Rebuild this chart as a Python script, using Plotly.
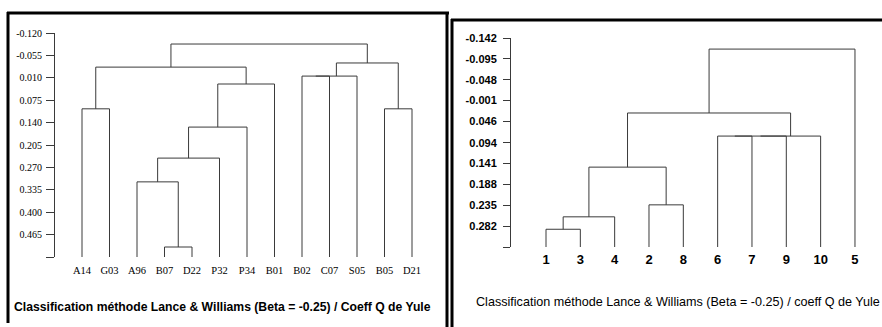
import plotly.graph_objs as go

W, H = 882, 327

## left dendrogram (13 objects)
left_leaves = ['A14', 'G03', 'A96', 'B07', 'D22', 'P32', 'P34', 'B01',
               'B02', 'C07', 'S05', 'B05', 'D21']
# merges: (child a, child b, level); children are leaf names or 'm<k>' (k = merge number, from 1)
left_merges = [('B07', 'D22', 0.501), ('A96', 'm1', 0.312), ('m2', 'P32', 0.243),
               ('m3', 'P34', 0.153), ('m4', 'B01', 0.028), ('A14', 'G03', 0.100),
               ('m6', 'm5', -0.021), ('B02', 'C07', 0.005), ('m8', 'S05', 0.005),
               ('B05', 'D21', 0.100), ('m9', 'm10', -0.033), ('m7', 'm11', -0.088)]
left_tickvals = [-0.120, -0.055, 0.010, 0.075, 0.140, 0.205, 0.270, 0.335, 0.400, 0.465, 0.530]
left_ticktext = ['-0.120', '-0.055', '0.010', '0.075', '0.140', '0.205', '0.270',
                 '0.335', '0.400', '0.465', '']

## right dendrogram (10 objects)
right_leaves = ['1', '3', '4', '2', '8', '6', '7', '9', '10', '5']
right_merges = [('1', '3', 0.289), ('m1', '4', 0.261), ('2', '8', 0.234),
                ('m2', 'm3', 0.149), ('6', '7', 0.079), ('m5', '9', 0.079),
                ('m6', '10', 0.079), ('m4', 'm7', 0.027), ('m8', '5', -0.117)]
right_tickvals = [-0.142, -0.095, -0.048, -0.001, 0.046, 0.094, 0.141, 0.188, 0.235, 0.282, 0.329]
right_ticktext = ['-0.142', '-0.095', '-0.048', '-0.001', '0.046', '0.094', '0.141',
                  '0.188', '0.235', '0.282', '']

title_left = 'Classification méthode Lance & Williams (Beta = -0.25) / Coeff Q de Yule'
title_right = 'Classification méthode Lance & Williams (Beta = -0.25) / coeff Q de Yule'


def dendro_lines(leaves, merges, base):
    pos = {name: (i, base) for i, name in enumerate(leaves)}
    xs, ys = [], []
    for k, (a, b, h) in enumerate(merges, start=1):
        xa, ha = pos[a]
        xb, hb = pos[b]
        xs += [xa, xa, xb, xb, None]
        ys += [ha, h, h, hb, None]
        pos['m%d' % k] = ((xa + xb) / 2.0, h)
    return xs, ys


lx, ly = dendro_lines(left_leaves, left_merges, left_tickvals[-1])
rx, ry = dendro_lines(right_leaves, right_merges, right_tickvals[-1])

line_col = '#3a3a3a'
data = [
    go.Scatter(x=lx, y=ly, mode='lines', line=dict(color=line_col, width=1),
               xaxis='x', yaxis='y', hoverinfo='none', showlegend=False),
    go.Scatter(x=rx, y=ry, mode='lines', line=dict(color=line_col, width=1),
               xaxis='x2', yaxis='y2', hoverinfo='none', showlegend=False),
]


def px(x):
    return x / W


def py(y):
    return 1 - y / H


##pixel placement of the two panels
L_axis, L_top, L_bot, L_first, L_step, L_right = 55, 33, 257, 82, 27.5, 440
R_axis, R_top, R_bot, R_first, R_step, R_right = 511, 38, 247, 546, 34.33, 875

serif = dict(family='Liberation Serif, serif', size=10.5, color='black')
sans = dict(family='Liberation Sans, Arial, sans-serif', size=11, color='black')

common = dict(showgrid=False, zeroline=False, automargin=False, fixedrange=True)

layout = go.Layout(
    width=W, height=H, margin=dict(l=0, r=0, t=0, b=0, pad=0),
    paper_bgcolor='white', plot_bgcolor='white', showlegend=False,
    xaxis=dict(common, domain=[px(L_axis), px(L_right)],
               range=[(L_axis - L_first) / L_step, (L_right - L_first) / L_step],
               tickvals=list(range(len(left_leaves))), ticktext=left_leaves,
               showline=False, ticks='', tickfont=serif, ticklabelstandoff=5, anchor='y'),
    yaxis=dict(common, domain=[py(L_bot), py(L_top)], range=[left_tickvals[-1], left_tickvals[0]],
               tickvals=left_tickvals, ticktext=left_ticktext,
               showline=True, linecolor=line_col, linewidth=1,
               ticks='outside', ticklen=8, tickcolor=line_col, tickwidth=1,
               tickfont=dict(serif, size=10), ticklabelstandoff=2, anchor='x'),
    yaxis3=dict(common, domain=[py(L_bot), py(L_top)], range=[left_tickvals[-1], left_tickvals[0]],
                tickvals=left_tickvals, showticklabels=False, overlaying='y', anchor='x',
                showline=False, ticks='inside', ticklen=7, tickcolor=line_col, tickwidth=1),
    xaxis2=dict(common, domain=[px(R_axis), px(R_right)],
                range=[(R_axis - R_first) / R_step, (R_right - R_first) / R_step],
                tickvals=list(range(len(right_leaves))), ticktext=right_leaves,
                showline=False, ticks='',
                tickfont=dict(sans, size=13, weight='bold'), ticklabelstandoff=3, anchor='y2'),
    yaxis2=dict(common, domain=[py(R_bot), py(R_top)], range=[right_tickvals[-1], right_tickvals[0]],
                tickvals=right_tickvals, ticktext=right_ticktext,
                showline=True, linecolor=line_col, linewidth=1,
                ticks='outside', ticklen=7, tickcolor=line_col, tickwidth=1,
                tickfont=dict(sans, weight='bold'), ticklabelstandoff=4, anchor='x2'),
    yaxis4=dict(common, domain=[py(R_bot), py(R_top)], range=[right_tickvals[-1], right_tickvals[0]],
                tickvals=right_tickvals, showticklabels=False, overlaying='y2', anchor='x2',
                showline=False, ticks='inside', ticklen=6, tickcolor=line_col, tickwidth=1),
    annotations=[
        dict(text=title_left, xref='paper', yref='paper', x=px(12), y=py(307),
             xanchor='left', yanchor='middle', showarrow=False,
             font=dict(sans, size=12.2, weight='bold')),
        dict(text=title_right, xref='paper', yref='paper', x=px(474), y=py(302),
             xanchor='left', yanchor='middle', showarrow=False,
             font=dict(sans, size=12.6)),
    ],
    ##panel frames
    shapes=[
        dict(type='line', xref='paper', yref='paper', x0=px(7), x1=px(449), y0=py(13), y1=py(13),
             line=dict(color='black', width=3)),
        dict(type='line', xref='paper', yref='paper', x0=px(8), x1=px(8), y0=py(12), y1=py(323),
             line=dict(color='black', width=3)),
        dict(type='line', xref='paper', yref='paper', x0=px(447), x1=px(447), y0=py(12), y1=py(327),
             line=dict(color='black', width=3)),
        dict(type='line', xref='paper', yref='paper', x0=px(451), x1=px(882), y0=py(20), y1=py(20),
             line=dict(color='black', width=3)),
        dict(type='line', xref='paper', yref='paper', x0=px(452), x1=px(452), y0=py(19), y1=py(327),
             line=dict(color='black', width=3)),
    ],
)

fig = go.Figure(data=data, layout=layout)
##the page's default body margin would shift the figure by 8px
fig.write_html('out.html', config={'displayModeBar': False},
               post_script="document.body.style.margin='0';")
